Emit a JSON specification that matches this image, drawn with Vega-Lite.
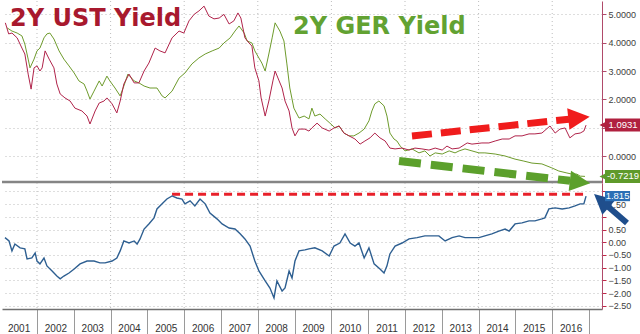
{
"$schema":"https://vega.github.io/schema/vega-lite/v6.json",
"padding":0,
"spacing":0,
"bounds":"flush",
"config":{"view":{"stroke":null}},
"datasets":{
"yrs":[{"t":2002},{"t":2004},{"t":2006},{"t":2008},{"t":2010},{"t":2012},{"t":2014},{"t":2016}],
"ust":[{"t":2001.14,"v":4.70},{"t":2001.23,"v":4.31},{"t":2001.32,"v":4.34},{"t":2001.46,"v":4.17},{"t":2001.59,"v":3.81},{"t":2001.67,"v":3.60},{"t":2001.76,"v":2.89},{"t":2001.84,"v":2.36},{"t":2001.92,"v":3.11},{"t":2002.00,"v":3.18},{"t":2002.08,"v":3.00},{"t":2002.14,"v":3.11},{"t":2002.22,"v":3.71},{"t":2002.33,"v":3.42},{"t":2002.46,"v":3.11},{"t":2002.54,"v":2.54},{"t":2002.63,"v":2.19},{"t":2002.76,"v":2.05},{"t":2002.90,"v":1.94},{"t":2003.03,"v":1.69},{"t":2003.22,"v":1.59},{"t":2003.36,"v":1.41},{"t":2003.44,"v":1.13},{"t":2003.58,"v":1.59},{"t":2003.69,"v":1.87},{"t":2003.82,"v":1.94},{"t":2003.90,"v":2.05},{"t":2004.04,"v":1.84},{"t":2004.17,"v":1.52},{"t":2004.26,"v":1.94},{"t":2004.36,"v":2.54},{"t":2004.50,"v":2.89},{"t":2004.64,"v":2.58},{"t":2004.77,"v":2.58},{"t":2004.91,"v":3.00},{"t":2005.04,"v":3.28},{"t":2005.21,"v":3.81},{"t":2005.34,"v":3.71},{"t":2005.48,"v":3.64},{"t":2005.67,"v":4.17},{"t":2005.86,"v":4.41},{"t":2005.99,"v":4.34},{"t":2006.13,"v":4.77},{"t":2006.27,"v":5.00},{"t":2006.40,"v":5.12},{"t":2006.54,"v":5.29},{"t":2006.67,"v":4.94},{"t":2006.81,"v":4.84},{"t":2006.95,"v":4.87},{"t":2007.08,"v":5.00},{"t":2007.22,"v":4.66},{"t":2007.35,"v":4.77},{"t":2007.46,"v":5.05},{"t":2007.54,"v":4.87},{"t":2007.65,"v":4.17},{"t":2007.76,"v":3.99},{"t":2007.84,"v":3.88},{"t":2007.92,"v":3.11},{"t":2008.03,"v":2.65},{"t":2008.09,"v":2.05},{"t":2008.20,"v":1.41},{"t":2008.30,"v":1.94},{"t":2008.41,"v":2.65},{"t":2008.47,"v":3.00},{"t":2008.58,"v":2.65},{"t":2008.66,"v":2.40},{"t":2008.74,"v":1.94},{"t":2008.85,"v":1.59},{"t":2008.93,"v":0.99},{"t":2009.01,"v":0.71},{"t":2009.12,"v":0.95},{"t":2009.28,"v":0.95},{"t":2009.39,"v":0.88},{"t":2009.47,"v":0.99},{"t":2009.61,"v":1.16},{"t":2009.75,"v":0.99},{"t":2009.94,"v":0.88},{"t":2010.07,"v":0.99},{"t":2010.21,"v":1.06},{"t":2010.34,"v":0.81},{"t":2010.48,"v":0.71},{"t":2010.64,"v":0.60},{"t":2010.78,"v":0.42},{"t":2010.91,"v":0.53},{"t":2011.05,"v":0.64},{"t":2011.18,"v":0.81},{"t":2011.32,"v":0.64},{"t":2011.46,"v":0.53},{"t":2011.59,"v":0.28},{"t":2011.73,"v":0.25},{"t":2011.92,"v":0.28},{"t":2012.11,"v":0.21},{"t":2012.27,"v":0.28},{"t":2012.46,"v":0.25},{"t":2012.65,"v":0.21},{"t":2012.82,"v":0.28},{"t":2013.01,"v":0.21},{"t":2013.14,"v":0.35},{"t":2013.28,"v":0.25},{"t":2013.47,"v":0.28},{"t":2013.69,"v":0.46},{"t":2013.82,"v":0.42},{"t":2014.09,"v":0.46},{"t":2014.28,"v":0.46},{"t":2014.45,"v":0.53},{"t":2014.64,"v":0.60},{"t":2014.83,"v":0.60},{"t":2014.99,"v":0.71},{"t":2015.18,"v":0.71},{"t":2015.37,"v":0.78},{"t":2015.53,"v":0.78},{"t":2015.72,"v":0.81},{"t":2015.94,"v":1.06},{"t":2016.08,"v":0.81},{"t":2016.21,"v":0.95},{"t":2016.35,"v":0.99},{"t":2016.48,"v":0.64},{"t":2016.62,"v":0.78},{"t":2016.76,"v":0.81},{"t":2016.86,"v":0.88},{"t":2016.92,"v":1.09}],
"ger":[{"t":2001.19,"v":4.52},{"t":2001.32,"v":4.41},{"t":2001.46,"v":4.34},{"t":2001.59,"v":4.24},{"t":2001.67,"v":3.95},{"t":2001.76,"v":3.42},{"t":2001.81,"v":3.11},{"t":2001.92,"v":3.42},{"t":2002.00,"v":3.71},{"t":2002.08,"v":3.81},{"t":2002.19,"v":4.17},{"t":2002.27,"v":4.31},{"t":2002.35,"v":4.34},{"t":2002.46,"v":4.13},{"t":2002.60,"v":3.71},{"t":2002.73,"v":3.42},{"t":2002.87,"v":3.18},{"t":2003.01,"v":2.93},{"t":2003.14,"v":2.65},{"t":2003.28,"v":2.54},{"t":2003.36,"v":2.29},{"t":2003.44,"v":2.01},{"t":2003.55,"v":2.29},{"t":2003.69,"v":2.65},{"t":2003.77,"v":2.47},{"t":2003.90,"v":2.82},{"t":2003.98,"v":2.65},{"t":2004.12,"v":2.40},{"t":2004.26,"v":2.12},{"t":2004.36,"v":2.47},{"t":2004.47,"v":2.89},{"t":2004.64,"v":2.65},{"t":2004.77,"v":2.58},{"t":2004.91,"v":2.47},{"t":2005.07,"v":2.40},{"t":2005.26,"v":2.40},{"t":2005.40,"v":2.12},{"t":2005.48,"v":2.05},{"t":2005.67,"v":2.29},{"t":2005.86,"v":2.75},{"t":2006.02,"v":2.93},{"t":2006.21,"v":3.25},{"t":2006.40,"v":3.46},{"t":2006.57,"v":3.60},{"t":2006.76,"v":3.71},{"t":2006.95,"v":3.81},{"t":2007.08,"v":3.99},{"t":2007.25,"v":4.17},{"t":2007.38,"v":4.41},{"t":2007.49,"v":4.59},{"t":2007.63,"v":4.34},{"t":2007.71,"v":4.06},{"t":2007.84,"v":3.99},{"t":2007.92,"v":3.71},{"t":2008.03,"v":3.46},{"t":2008.11,"v":3.28},{"t":2008.20,"v":3.00},{"t":2008.30,"v":3.60},{"t":2008.39,"v":4.17},{"t":2008.47,"v":4.70},{"t":2008.60,"v":4.41},{"t":2008.71,"v":4.06},{"t":2008.79,"v":3.25},{"t":2008.87,"v":2.40},{"t":2008.98,"v":1.69},{"t":2009.12,"v":1.34},{"t":2009.26,"v":1.41},{"t":2009.39,"v":1.31},{"t":2009.47,"v":1.69},{"t":2009.55,"v":1.41},{"t":2009.69,"v":1.48},{"t":2009.83,"v":1.31},{"t":2009.96,"v":1.16},{"t":2010.10,"v":0.99},{"t":2010.21,"v":1.06},{"t":2010.34,"v":0.81},{"t":2010.48,"v":0.71},{"t":2010.61,"v":0.71},{"t":2010.75,"v":0.81},{"t":2010.89,"v":0.95},{"t":2011.02,"v":1.24},{"t":2011.10,"v":1.59},{"t":2011.18,"v":1.84},{"t":2011.29,"v":1.94},{"t":2011.43,"v":1.77},{"t":2011.51,"v":1.41},{"t":2011.59,"v":0.81},{"t":2011.70,"v":0.60},{"t":2011.78,"v":0.53},{"t":2011.87,"v":0.35},{"t":2012.00,"v":0.18},{"t":2012.19,"v":0.25},{"t":2012.38,"v":0.11},{"t":2012.54,"v":0.18},{"t":2012.68,"v":0.00},{"t":2012.82,"v":0.11},{"t":2013.01,"v":0.07},{"t":2013.20,"v":0.18},{"t":2013.36,"v":0.11},{"t":2013.47,"v":0.18},{"t":2013.63,"v":0.25},{"t":2013.82,"v":0.18},{"t":2014.01,"v":0.11},{"t":2014.17,"v":0.11},{"t":2014.45,"v":0.07},{"t":2014.72,"v":0.00},{"t":2014.99,"v":-0.11},{"t":2015.23,"v":-0.18},{"t":2015.45,"v":-0.25},{"t":2015.72,"v":-0.28},{"t":2015.99,"v":-0.42},{"t":2016.18,"v":-0.53},{"t":2016.40,"v":-0.60},{"t":2016.54,"v":-0.64},{"t":2016.67,"v":-0.64},{"t":2016.76,"v":-0.71},{"t":2016.89,"v":-0.72}],
"spr":[{"t":2001.13,"v":0.18},{"t":2001.24,"v":0.05},{"t":2001.32,"v":-0.34},{"t":2001.40,"v":-0.07},{"t":2001.54,"v":-0.22},{"t":2001.67,"v":-0.26},{"t":2001.73,"v":-0.66},{"t":2001.86,"v":-0.62},{"t":2001.95,"v":-0.42},{"t":2002.00,"v":-0.74},{"t":2002.08,"v":-0.85},{"t":2002.19,"v":-0.62},{"t":2002.27,"v":-0.93},{"t":2002.41,"v":-1.13},{"t":2002.54,"v":-1.33},{"t":2002.63,"v":-1.44},{"t":2002.73,"v":-1.33},{"t":2002.87,"v":-1.21},{"t":2003.01,"v":-1.05},{"t":2003.17,"v":-0.85},{"t":2003.36,"v":-0.74},{"t":2003.55,"v":-0.74},{"t":2003.71,"v":-0.81},{"t":2003.85,"v":-0.81},{"t":2004.04,"v":-0.74},{"t":2004.17,"v":-0.62},{"t":2004.26,"v":-0.34},{"t":2004.36,"v":0.05},{"t":2004.50,"v":-0.03},{"t":2004.64,"v":0.05},{"t":2004.72,"v":-0.07},{"t":2004.80,"v":0.13},{"t":2004.91,"v":0.52},{"t":2005.04,"v":0.72},{"t":2005.18,"v":0.96},{"t":2005.26,"v":1.31},{"t":2005.40,"v":1.51},{"t":2005.53,"v":1.70},{"t":2005.67,"v":1.82},{"t":2005.80,"v":1.74},{"t":2005.94,"v":1.70},{"t":2006.02,"v":1.51},{"t":2006.16,"v":1.63},{"t":2006.29,"v":1.43},{"t":2006.43,"v":1.70},{"t":2006.57,"v":1.51},{"t":2006.70,"v":1.15},{"t":2006.89,"v":0.92},{"t":2007.03,"v":0.72},{"t":2007.22,"v":0.56},{"t":2007.38,"v":0.52},{"t":2007.52,"v":0.33},{"t":2007.65,"v":0.13},{"t":2007.79,"v":-0.15},{"t":2007.92,"v":-0.74},{"t":2008.03,"v":-1.13},{"t":2008.20,"v":-1.52},{"t":2008.33,"v":-1.80},{"t":2008.44,"v":-2.19},{"t":2008.52,"v":-1.52},{"t":2008.66,"v":-1.92},{"t":2008.74,"v":-1.80},{"t":2008.85,"v":-1.13},{"t":2008.93,"v":-1.41},{"t":2009.01,"v":-0.74},{"t":2009.12,"v":-0.34},{"t":2009.28,"v":-0.30},{"t":2009.39,"v":-0.26},{"t":2009.55,"v":-0.22},{"t":2009.75,"v":-0.34},{"t":2009.94,"v":-0.54},{"t":2010.07,"v":-0.15},{"t":2010.23,"v":-0.03},{"t":2010.37,"v":0.33},{"t":2010.51,"v":-0.03},{"t":2010.64,"v":-0.15},{"t":2010.75,"v":-0.03},{"t":2010.89,"v":-0.62},{"t":2011.02,"v":-0.22},{"t":2011.16,"v":-0.85},{"t":2011.32,"v":-1.05},{"t":2011.43,"v":-1.21},{"t":2011.51,"v":-0.93},{"t":2011.59,"v":-0.46},{"t":2011.73,"v":-0.15},{"t":2011.92,"v":-0.03},{"t":2012.11,"v":0.13},{"t":2012.33,"v":0.18},{"t":2012.54,"v":0.25},{"t":2012.73,"v":0.25},{"t":2012.92,"v":0.25},{"t":2013.09,"v":0.05},{"t":2013.28,"v":0.18},{"t":2013.47,"v":0.25},{"t":2013.63,"v":0.18},{"t":2013.82,"v":0.18},{"t":2014.01,"v":0.18},{"t":2014.17,"v":0.25},{"t":2014.36,"v":0.33},{"t":2014.55,"v":0.44},{"t":2014.72,"v":0.52},{"t":2014.83,"v":0.44},{"t":2014.99,"v":0.72},{"t":2015.18,"v":0.76},{"t":2015.37,"v":0.84},{"t":2015.53,"v":0.84},{"t":2015.72,"v":0.92},{"t":2015.80,"v":0.96},{"t":2015.91,"v":1.31},{"t":2016.08,"v":1.35},{"t":2016.27,"v":1.31},{"t":2016.46,"v":1.35},{"t":2016.62,"v":1.43},{"t":2016.76,"v":1.51},{"t":2016.86,"v":1.51},{"t":2016.92,"v":1.815}]
},
"vconcat":[
{"width":600,"height":182,
 "resolve":{"axis":{"x":"independent","y":"independent"}},
 "layer":[
 {"data":{"name":"yrs"},"mark":{"type":"rule","color":"#bdbdbd","strokeDash":[1,3],"strokeWidth":1},
  "encoding":{"x":{"field":"t","type":"quantitative","scale":{"domain":[2001.049,2017.353],"nice":false,"zero":false},"axis":null}}},
 {"data":{"values":[{"v":-0.92}]},"mark":{"type":"rule","color":"#858585","strokeWidth":2.5},
  "encoding":{"y":{"field":"v","type":"quantitative","scale":{"domain":[-0.953,5.471],"nice":false,"zero":false},"axis":null}}},
 {"data":{"name":"ger"},"mark":{"type":"line","color":"#6e9b2c","strokeWidth":1},
  "encoding":{"x":{"field":"t","type":"quantitative","scale":{"domain":[2001.049,2017.353],"nice":false,"zero":false},"axis":null},
   "y":{"field":"v","type":"quantitative","scale":{"domain":[-0.953,5.471],"nice":false,"zero":false},"axis":null}}},
 {"data":{"name":"ust"},"mark":{"type":"line","color":"#b0234a","strokeWidth":1},
  "encoding":{"x":{"field":"t","type":"quantitative","scale":{"domain":[2001.049,2017.353],"nice":false,"zero":false},"axis":null},
   "y":{"field":"v","type":"quantitative","scale":{"domain":[-0.953,5.471],"nice":false,"zero":false},
    "axis":{"orient":"right","values":[0,1,2,3,4,5],"labelExpr":"datum.value == 1 ? '' : format(datum.value, '.4f')","grid":true,"gridColor":"#bdbdbd","gridDash":[1,3],"gridWidth":1,"domainColor":"#b04a6a","domainWidth":1,"tickColor":"#b04a6a","tickSize":4,"labelPadding":2,"labelFont":"Liberation Sans","labelFontSize":9,"labelColor":"#404040","labelOverlap":false,"title":null}}}},
 {"data":{"values":[{"t":2012.19,"v":0.706,"t2":2016.456,"v2":1.30}]},"mark":{"type":"rule","color":"#f01c1c","strokeWidth":7,"strokeDash":[20,9]},
  "encoding":{"x":{"field":"t","type":"quantitative","scale":{"domain":[2001.049,2017.353],"nice":false,"zero":false},"axis":null},"x2":{"field":"t2"},
   "y":{"field":"v","type":"quantitative","scale":{"domain":[-0.953,5.471],"nice":false,"zero":false},"axis":null},"y2":{"field":"v2"}}},
 {"data":{"values":[{"t":2016.728,"v":1.345}]},"mark":{"type":"point","shape":"M-1,-1L1,0L-1,1Z","size":460,"angle":354,"filled":true,"color":"#f01c1c","opacity":1,"strokeWidth":0},
  "encoding":{"x":{"field":"t","type":"quantitative","scale":{"domain":[2001.049,2017.353],"nice":false,"zero":false},"axis":null},
   "y":{"field":"v","type":"quantitative","scale":{"domain":[-0.953,5.471],"nice":false,"zero":false},"axis":null}}},
 {"data":{"values":[{"t":2011.837,"v":-0.176,"t2":2016.484,"v2":-0.875}]},"mark":{"type":"rule","color":"#5ca02c","strokeWidth":8,"strokeDash":[22,10]},
  "encoding":{"x":{"field":"t","type":"quantitative","scale":{"domain":[2001.049,2017.353],"nice":false,"zero":false},"axis":null},"x2":{"field":"t2"},
   "y":{"field":"v","type":"quantitative","scale":{"domain":[-0.953,5.471],"nice":false,"zero":false},"axis":null},"y2":{"field":"v2"}}},
 {"data":{"values":[{"t":2016.756,"v":-0.918}]},"mark":{"type":"point","shape":"M-1,-1L1,0L-1,1Z","size":420,"angle":6.6,"filled":true,"color":"#5ca02c","opacity":1,"strokeWidth":0},
  "encoding":{"x":{"field":"t","type":"quantitative","scale":{"domain":[2001.049,2017.353],"nice":false,"zero":false},"axis":null},
   "y":{"field":"v","type":"quantitative","scale":{"domain":[-0.953,5.471],"nice":false,"zero":false},"axis":null}}},
 {"data":{"values":[{"t":2017.435,"t2":2018.41,"v":0.863,"v2":1.323}]},"mark":{"type":"rect","color":"#b0203f"},
  "encoding":{"x":{"field":"t","type":"quantitative","scale":{"domain":[2001.049,2017.353],"nice":false,"zero":false},"axis":null},"x2":{"field":"t2"},
   "y":{"field":"v","type":"quantitative","scale":{"domain":[-0.953,5.471],"nice":false,"zero":false},"axis":null},"y2":{"field":"v2"}}},
 {"data":{"values":[{"t":2017.381,"v":1.0931}]},"mark":{"type":"point","shape":"M1,-1L-1,0L1,1Z","size":49,"filled":true,"color":"#b0203f","opacity":1,"strokeWidth":0},
  "encoding":{"x":{"field":"t","type":"quantitative","scale":{"domain":[2001.049,2017.353],"nice":false,"zero":false},"axis":null},
   "y":{"field":"v","type":"quantitative","scale":{"domain":[-0.953,5.471],"nice":false,"zero":false},"axis":null}}},
 {"data":{"values":[{"t":2017.435,"t2":2018.41,"v":-0.952,"v2":-0.492}]},"mark":{"type":"rect","color":"#5f9a2a"},
  "encoding":{"x":{"field":"t","type":"quantitative","scale":{"domain":[2001.049,2017.353],"nice":false,"zero":false},"axis":null},"x2":{"field":"t2"},
   "y":{"field":"v","type":"quantitative","scale":{"domain":[-0.953,5.471],"nice":false,"zero":false},"axis":null},"y2":{"field":"v2"}}},
 {"data":{"values":[{"t":2017.381,"v":-0.7219}]},"mark":{"type":"point","shape":"M1,-1L-1,0L1,1Z","size":49,"filled":true,"color":"#5f9a2a","opacity":1,"strokeWidth":0},
  "encoding":{"x":{"field":"t","type":"quantitative","scale":{"domain":[2001.049,2017.353],"nice":false,"zero":false},"axis":null},
   "y":{"field":"v","type":"quantitative","scale":{"domain":[-0.953,5.471],"nice":false,"zero":false},"axis":null}}},
 {"data":{"values":[{"t":2017.924,"v":1.0931,"label":"1.0931"},{"t":2017.924,"v":-0.7219,"label":"-0.7219"}]},"mark":{"type":"text","color":"#ffffff","font":"Liberation Sans","fontSize":9.5,"align":"center","baseline":"middle"},
  "encoding":{"x":{"field":"t","type":"quantitative","scale":{"domain":[2001.049,2017.353],"nice":false,"zero":false},"axis":null},
   "y":{"field":"v","type":"quantitative","scale":{"domain":[-0.953,5.471],"nice":false,"zero":false},"axis":null},"text":{"field":"label"}}},
 {"data":{"values":[{"t":2001.266,"v":4.589,"label":"2Y UST Yield"}]},"mark":{"type":"text","color":"#a8192e","font":"DejaVu Sans","fontWeight":"bold","fontSize":24,"align":"left","baseline":"alphabetic"},
  "encoding":{"x":{"field":"t","type":"quantitative","scale":{"domain":[2001.049,2017.353],"nice":false,"zero":false},"axis":null},
   "y":{"field":"v","type":"quantitative","scale":{"domain":[-0.953,5.471],"nice":false,"zero":false},"axis":null},"text":{"field":"label"}}},
 {"data":{"values":[{"t":2008.957,"v":4.306,"label":"2Y GER Yield"}]},"mark":{"type":"text","color":"#62a232","font":"DejaVu Sans","fontWeight":"bold","fontSize":24,"align":"left","baseline":"alphabetic"},
  "encoding":{"x":{"field":"t","type":"quantitative","scale":{"domain":[2001.049,2017.353],"nice":false,"zero":false},"axis":null},
   "y":{"field":"v","type":"quantitative","scale":{"domain":[-0.953,5.471],"nice":false,"zero":false},"axis":null},"text":{"field":"label"}}}
]},
{"width":600,"height":126,
 "resolve":{"axis":{"x":"independent","y":"independent"}},
 "layer":[
 {"data":{"name":"yrs"},"mark":{"type":"rule","color":"#bdbdbd","strokeDash":[1,3],"strokeWidth":1},
  "encoding":{"x":{"field":"t","type":"quantitative","scale":{"domain":[2001.049,2017.353],"nice":false,"zero":false},"axis":null}}},
 {"data":{"values":[{"t":2005.67,"v":1.89,"t2":2016.86}]},"mark":{"type":"rule","color":"#e8202a","strokeWidth":3,"strokeDash":[8,5]},
  "encoding":{"x":{"field":"t","type":"quantitative","scale":{"domain":[2001.049,2017.353],"nice":false,"zero":false},"axis":null},"x2":{"field":"t2"},
   "y":{"field":"v","type":"quantitative","scale":{"domain":[-2.626,2.33],"nice":false,"zero":false},"axis":null}}},
 {"data":{"name":"spr"},"mark":{"type":"line","color":"#2e5f91","strokeWidth":1.4},
  "encoding":{"x":{"field":"t","type":"quantitative","scale":{"domain":[2001.049,2017.353],"nice":false,"zero":false},
    "axis":{"orient":"bottom","values":[2002,2003,2004,2005,2006,2007,2008,2009,2010,2011,2012,2013,2014,2015,2016,2017],"labelExpr":"'' + (datum.value - 1)","labelOffset":-18.4,"labelFlush":false,"labelOverlap":false,"labelBound":false,"tickSize":25,"tickColor":"#9a9a9a","domainColor":"#707070","domainWidth":1.5,"labelPadding":-3,"labelBaseline":"alphabetic","labelFont":"Liberation Sans Narrow, Liberation Sans","labelFontSize":10,"labelColor":"#333333","grid":false,"title":null}},
   "y":{"field":"v","type":"quantitative","scale":{"domain":[-2.626,2.33],"nice":false,"zero":false},
    "axis":{"orient":"right","values":[-2.5,-2,-1.5,-1,-0.5,0,0.5,1,1.5,2],"labelExpr":"datum.value == 2 || datum.value == 1 ? '' : format(datum.value, '.2f')","grid":true,"gridColor":"#bdbdbd","gridDash":[1,3],"gridWidth":1,"domainColor":"#b04a6a","domainWidth":1,"tickColor":"#c02848","tickSize":4,"labelPadding":2,"labelFont":"Liberation Sans","labelFontSize":9,"labelColor":"#404040","labelOverlap":false,"title":null}}}},
 {"data":{"values":[{"t":2018.032,"v":0.755,"t2":2017.435,"v2":1.503}]},"mark":{"type":"rule","color":"#1f4e8c","strokeWidth":6},
  "encoding":{"x":{"field":"t","type":"quantitative","scale":{"domain":[2001.049,2017.353],"nice":false,"zero":false},"axis":null},"x2":{"field":"t2"},
   "y":{"field":"v","type":"quantitative","scale":{"domain":[-2.626,2.33],"nice":false,"zero":false},"axis":null},"y2":{"field":"v2"}}},
 {"data":{"values":[{"t":2017.34,"v":1.637}]},"mark":{"type":"point","shape":"M-1,-1L1,0L-1,1Z","size":400,"angle":221.6,"filled":true,"color":"#1f4e8c","opacity":1,"strokeWidth":0},
  "encoding":{"x":{"field":"t","type":"quantitative","scale":{"domain":[2001.049,2017.353],"nice":false,"zero":false},"axis":null},
   "y":{"field":"v","type":"quantitative","scale":{"domain":[-2.626,2.33],"nice":false,"zero":false},"axis":null}}},
 {"data":{"values":[{"t":2017.435,"t2":2018.115,"v":1.615,"v2":2.015}]},"mark":{"type":"rect","color":"#2b6fb5"},
  "encoding":{"x":{"field":"t","type":"quantitative","scale":{"domain":[2001.049,2017.353],"nice":false,"zero":false},"axis":null},"x2":{"field":"t2"},
   "y":{"field":"v","type":"quantitative","scale":{"domain":[-2.626,2.33],"nice":false,"zero":false},"axis":null},"y2":{"field":"v2"}}},
 {"data":{"values":[{"t":2017.775,"v":1.815,"label":"1.815"}]},"mark":{"type":"text","color":"#ffffff","font":"Liberation Sans","fontSize":9.5,"align":"center","baseline":"middle"},
  "encoding":{"x":{"field":"t","type":"quantitative","scale":{"domain":[2001.049,2017.353],"nice":false,"zero":false},"axis":null},
   "y":{"field":"v","type":"quantitative","scale":{"domain":[-2.626,2.33],"nice":false,"zero":false},"axis":null},"text":{"field":"label"}}}
]}
]
}
